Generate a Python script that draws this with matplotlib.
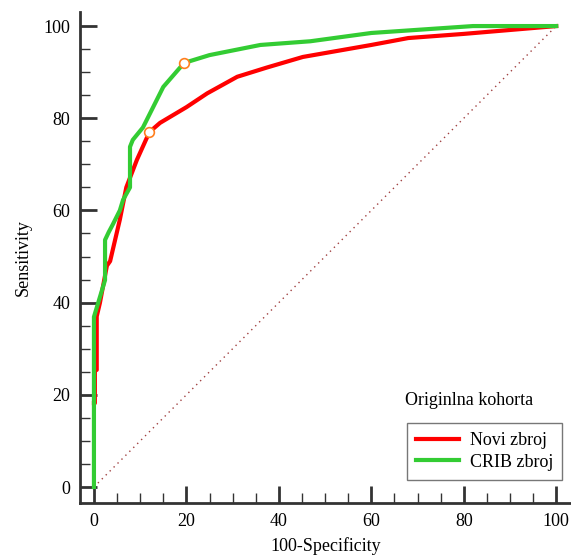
import matplotlib.pyplot as plt

# ROC curves (x = 100-Specificity, y = Sensitivity)
novi_x = [0, 0.2, 0.2, 0.6, 0.6, 1.3, 2.8, 3.5, 5.6, 7.0, 9.3, 12.0, 14.3, 20.0, 24.5, 31.0, 37.4, 45.2, 60.0, 68.0, 80.0, 100]
novi_y = [18.2, 18.2, 25.4, 25.4, 37.0, 40.0, 48.0, 49.0, 58.0, 65.0, 71.0, 77.0, 79.0, 82.4, 85.4, 89.0, 91.0, 93.3, 95.9, 97.4, 98.3, 100]
crib_x = [0, 0, 2.4, 2.4, 3.2, 4.1, 5.6, 6.3, 7.8, 7.8, 8.4, 10.6, 12.1, 15.0, 19.5, 25.0, 36.0, 46.8, 60.0, 82.0, 100]
crib_y = [0, 36.9, 44.9, 53.6, 55.3, 57.0, 60.0, 62.3, 65.0, 73.8, 75.3, 78.0, 81.0, 86.8, 92.0, 93.7, 95.9, 96.7, 98.5, 100, 100]
cut_x = [12.0, 19.5]
cut_y = [77.0, 92.0]

SERIF = 'Liberation Serif'
FS = 13

fig = plt.figure(figsize=(5.71, 5.56), dpi=100)
ax = fig.add_axes([0.14, 0.0953, 0.86, 0.8827])

ax.plot([0, 100], [0, 100], linestyle=(0, (1, 3)), color='#a04040', lw=1)
ax.plot(novi_x, novi_y, color='#ff0000', lw=3, label='Novi zbroj', solid_joinstyle='round')
ax.plot(crib_x, crib_y, color='#33cc33', lw=3, label='CRIB zbroj', solid_joinstyle='round')
ax.plot(cut_x, cut_y, 'o', ms=7, mfc='white', mec='#ff7f1e', mew=1.2, zorder=5)

ax.set_xlim(-3.03, 103.2)
ax.set_ylim(-3.47, 103)

for s in ['top', 'right']:
    ax.spines[s].set_visible(False)
for s in ['left', 'bottom']:
    ax.spines[s].set_color('#333333')
    ax.spines[s].set_linewidth(2)

ax.set_xticks(range(0, 101, 20))
ax.set_yticks(range(0, 101, 20))
ax.set_xticks(range(0, 101, 5), minor=True)
ax.set_yticks(range(0, 101, 5), minor=True)
ax.tick_params(which='major', direction='in', length=12, width=2, color='#333333', pad=7)
ax.tick_params(which='minor', direction='in', length=7, width=1, color='#333333')
for lab in ax.get_xticklabels() + ax.get_yticklabels():
    lab.set_fontfamily(SERIF)
    lab.set_fontsize(FS)

ax.set_xlabel('100-Specificity', fontfamily=SERIF, fontsize=FS, labelpad=5)
ax.set_ylabel('Sensitivity', fontfamily=SERIF, fontsize=FS, labelpad=8)

leg = ax.legend(loc='upper left', bbox_to_anchor=(0.7128, 0.2392), bbox_transform=fig.transFigure,
                prop={'family': SERIF, 'size': FS}, frameon=True, fancybox=False,
                edgecolor='#555555', handlelength=2.4, borderpad=0.5, labelspacing=0.25,
                handletextpad=0.6, borderaxespad=0)
leg.get_frame().set_linewidth(1)
fig.text(0.822, 0.28, 'Originlna kohorta', fontfamily=SERIF, fontsize=FS, ha='center', va='center')

plt.savefig('out.png', dpi=100)
